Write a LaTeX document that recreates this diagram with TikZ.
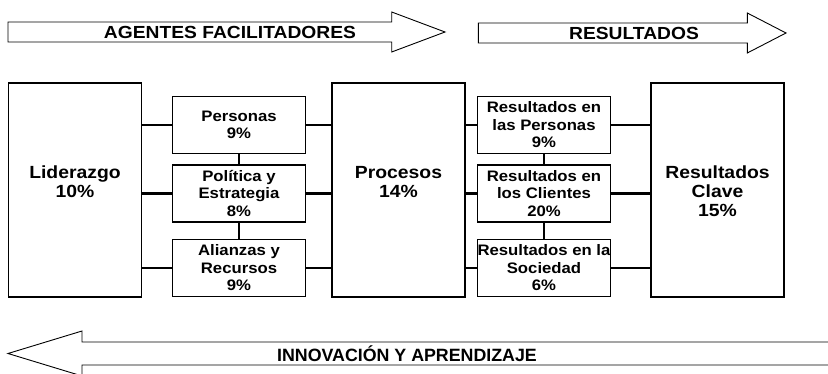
\documentclass[tikz,border=0pt]{standalone}
\usepackage{fontspec}
\setmainfont{Liberation Sans}[FakeStretch=1.1]
\newfontfamily\narrowfont{Liberation Sans}
\usetikzlibrary{positioning}

\begin{document}
\begin{tikzpicture}[x=1pt,y=-1pt,
    bigbox/.style={draw, line width=1.2pt, minimum width=133pt, minimum height=214pt,
        inner sep=0pt, align=center, font=\fontsize{17.6}{19}\selectfont\bfseries},
    smallbox/.style={draw, line width=1.2pt, minimum width=133pt, minimum height=57pt,
        inner sep=0pt, align=center, font=\fontsize{15.2}{17.5}\selectfont\bfseries},
    band/.style={draw, line width=0.9pt, fill=white},
    bandtext/.style={font=\fontsize{17.5}{20}\selectfont\bfseries}]
    \clip (0,0) rectangle (828,374);

    % criterios
    \node[bigbox] (lid)   at (75,190)    {\rule{0pt}{16pt}Liderazgo\\10\%\\\mbox{}};
    \node[bigbox] (proc)  at (398.5,190) {\rule{0pt}{16pt}Procesos\\14\%\\\mbox{}};
    \node[bigbox] (clave) at (717.5,190) {\rule{0pt}{15pt}Resultados\\Clave\\15\%};

    \node[smallbox] (pers) at (239,125)   {Personas\\9\%};
    \node[smallbox] (pol)  at (239,193.5) {Política y\\Estrategia\\8\%};
    \node[smallbox] (ali)  at (239,268)   {Alianzas y\\Recursos\\9\%};
    \node[smallbox] (rper) at (544,125)   {Resultados en\\las Personas\\9\%};
    \node[smallbox] (rcli) at (544,193.5) {Resultados en\\los Clientes\\20\%};
    \node[smallbox] (rsoc) at (544,268)   {Resultados en la\\Sociedad\\6\%};

    % uniones
    \foreach \s/\r/\w in {pers/rper/2pt, pol/rcli/3pt, ali/rsoc/2pt} {
        \draw[line width=\w] (lid.east |- \s) -- (\s.west);
        \draw[line width=\w] (\s.east) -- (proc.west |- \s);
        \draw[line width=\w] (proc.east |- \r) -- (\r.west);
        \draw[line width=\w] (\r.east) -- (clave.west |- \r);
    }
    \draw[line width=2pt] (pers) -- (pol) (pol) -- (ali);
    \draw[line width=2pt] (rper) -- (rcli) (rcli) -- (rsoc);

    % flechas
    \draw[band] (8,22) -- (391.7,22) -- (391.7,12) -- (445,32)
        -- (391.7,52) -- (391.7,42) -- (8,42) -- cycle;
    \node[bandtext] (agentes) at (230,32) {AGENTES FACILITADORES};

    \draw[band] (478.3,23) -- (747.3,23) -- (747.3,13) -- (786,33)
        -- (747.3,53) -- (747.3,43) -- (478.3,43) -- cycle;
    \node[bandtext] (result) at (634,33) {RESULTADOS};

    \draw[band] (840,342) -- (82,342) -- (82,331) -- (8,353.5)
        -- (82,376) -- (82,365) -- (840,365) -- cycle;
    \node[font=\narrowfont\fontsize{17.8}{20}\selectfont\bfseries] (innov) at (407,354)
        {INNOVACIÓN Y APRENDIZAJE};
\end{tikzpicture}
\end{document}
